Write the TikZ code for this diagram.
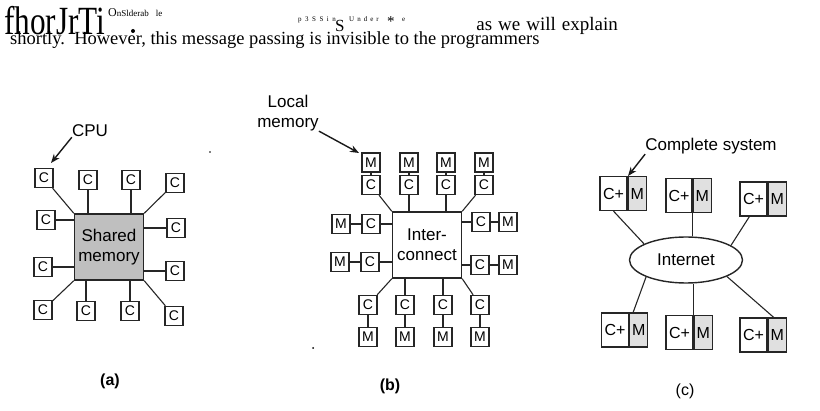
\documentclass[tikz,border=0pt]{standalone}
\usepackage{fontspec}
\setmainfont{Liberation Serif}
\newfontfamily\diagfont{Liberation Sans}
\usetikzlibrary{arrows.meta,shapes.geometric}
\begin{document}
\begin{tikzpicture}[x=1pt,y=-1pt,
  box/.style={draw=black!85, line width=1.4pt, fill=white, minimum width=18pt, minimum height=19pt, inner sep=0pt, font=\diagfont\fontsize{14}{14}\selectfont},
  link/.style={draw=black!85, line width=1.1pt},
  lbl/.style={font=\diagfont\fontsize{17}{20}\selectfont, align=center, inner sep=0pt},
  arr/.style={draw=black!90, line width=1.4pt, -{Stealth[length=9pt,width=7pt]}},
  cpart/.style={draw=black!85, line width=1.3pt, minimum width=27pt, minimum height=34pt, inner sep=0pt, font=\diagfont\fontsize{16}{16}\selectfont},
  mpart/.style={cpart, minimum width=18pt, fill=black!12},
  bigbox/.style={draw=black!85, line width=1.4pt, minimum width=69pt, minimum height=66pt, inner sep=0pt, lbl},
  toptext/.style={anchor=base west, inner sep=0pt},
  panel/.style={font=\diagfont\bfseries\fontsize{16}{16}\selectfont, inner sep=0pt}
]
\useasboundingbox (0,0) rectangle (820,411);

% ---------- top text ----------
\node[toptext] (t1) at (4,35) {\fontsize{40}{40}\selectfont\scalebox{0.78}[1]{fhorJrTi}};
\node[toptext] (t2) at (108,17) {{\fontsize{12}{12}\selectfont O}{\fontsize{9}{9}\selectfont nSlderab\hspace{7pt}le}};
\node[toptext] (t3) at (298,22) {\fontsize{7}{7}\selectfont p\hspace{3.5pt}3\hspace{3.5pt}S\hspace{3.5pt}S\hspace{3.5pt}i\hspace{3.5pt}n};
\node[toptext] (t4) at (335,32) {\fontsize{17}{17}\selectfont S};
\node[toptext] (t5) at (349,22) {\fontsize{7}{7}\selectfont U\hspace{3pt}n\hspace{3pt}d\hspace{3pt}e\hspace{3pt}r};
\node[toptext] (t6) at (387,27) {\fontsize{15}{15}\selectfont *};
\node[toptext] (t7) at (402,22) {\fontsize{7}{7}\selectfont e};
\node[anchor=base east, inner sep=0pt] (t8) at (618,31) {\fontsize{19}{19}\selectfont as\hspace{6pt}we\hspace{6pt}will\hspace{6pt}explain};
\node[toptext] (t9) at (10,45) {\fontsize{18.5}{18.5}\selectfont shortly.\ \ However, this message passing is invisible to the programmers};
\fill (133,31) circle (2);

% ---------- (a) ----------
\node[bigbox, fill=black!25] (sm) at (109,247) {Shared\\memory};
\node[box] (a1) at (44,178) {C};
\node[box] (a2) at (88,180) {C};
\node[box] (a3) at (131,180) {C};
\node[box] (a4) at (175,183) {C};
\node[box] (a5) at (46,220) {C};
\node[box] (a6) at (176,228) {C};
\node[box] (a7) at (43,267) {C};
\node[box] (a8) at (175,271) {C};
\node[box] (a9) at (43,310) {C};
\node[box] (a10) at (86,311) {C};
\node[box] (a11) at (130,311) {C};
\node[box] (a12) at (174,316) {C};
\draw[link] (a1) -- (sm.north west);
\draw[link] (a2.south) -- (a2.south |- sm.north);
\draw[link] (a3.south) -- (a3.south |- sm.north);
\draw[link] (a4) -- (sm.north east);
\draw[link] (a5.east) -- (a5.east -| sm.west);
\draw[link] (a6.west) -- (a6.west -| sm.east);
\draw[link] (a7.east) -- (a7.east -| sm.west);
\draw[link] (a8.west) -- (a8.west -| sm.east);
\draw[link] (a9) -- (sm.south west);
\draw[link] (a10.north) -- (a10.north |- sm.south);
\draw[link] (a11.north) -- (a11.north |- sm.south);
\draw[link] (a12) -- (sm.south east);
\node[lbl] (cpu) at (90,131) {CPU};
\coordinate (cputip) at (51,163);
\draw[arr] (cpu.south west) -- (cputip);
\node[panel] (la) at (110,381) {(a)};
\fill (210,152) circle (0.8);

% ---------- (b) ----------
\node[bigbox, fill=white] (ic) at (427,245) {Inter-\\connect};
\node[box] (tm1) at (371,162.5) {M};
\node[box] (tm2) at (409,162.5) {M};
\node[box] (tm3) at (446,162.5) {M};
\node[box] (tm4) at (484,162.5) {M};
\node[box] (tc1) at (371,185) {C};
\node[box] (tc2) at (409,185) {C};
\node[box] (tc3) at (446,185) {C};
\node[box] (tc4) at (484,185) {C};
\node[box] (lm1) at (341,224) {M};
\node[box] (lc1) at (371,224) {C};
\node[box] (lm2) at (340,262) {M};
\node[box] (lc2) at (370,262) {C};
\node[box] (rc1) at (481,222) {C};
\node[box] (rm1) at (508,222) {M};
\node[box] (rc2) at (480,265) {C};
\node[box] (rm2) at (508,265) {M};
\node[box] (bc1) at (368,305) {C};
\node[box] (bc2) at (405,305) {C};
\node[box] (bc3) at (443,305) {C};
\node[box] (bc4) at (480,305) {C};
\node[box] (bm1) at (368,337) {M};
\node[box] (bm2) at (405,337) {M};
\node[box] (bm3) at (443,337) {M};
\node[box] (bm4) at (480,337) {M};
\foreach \i in {1,2,3,4}{
  \draw[link] (tm\i) -- (tc\i);
  \draw[link] (bc\i) -- (bm\i);
}
\draw[link] (tc1) -- (ic.north west);
\draw[link] (tc2.south) -- (tc2.south |- ic.north);
\draw[link] (tc3.south) -- (tc3.south |- ic.north);
\draw[link] (tc4) -- (ic.north east);
\draw[link] (bc1) -- (ic.south west);
\draw[link] (bc2.north) -- (bc2.north |- ic.south);
\draw[link] (bc3.north) -- (bc3.north |- ic.south);
\draw[link] (bc4) -- (ic.south east);
\draw[link] (lm1) -- (lc1);
\draw[link] (lm2) -- (lc2);
\draw[link] (rc1) -- (rm1);
\draw[link] (rc2) -- (rm2);
\draw[link] (lc1.east) -- (lc1.east -| ic.west);
\draw[link] (lc2.east) -- (lc2.east -| ic.west);
\draw[link] (rc1.west) -- (rc1.west -| ic.east);
\draw[link] (rc2.west) -- (rc2.west -| ic.east);
\node[lbl] (locm) at (288,113) {Local\\memory};
\coordinate (loctip) at (359,153);
\draw[arr] (locm.south east) -- (loctip);
\node[panel] (lb) at (390,386) {(b)};
\fill (313,348) circle (1);

% ---------- (c) ----------
\node[draw=black!85, ellipse, line width=1.4pt, minimum width=113pt, minimum height=46pt, inner sep=0pt, lbl] (net) at (686,260) {Internet};
\node[cpart] (t1c) at (613.5,193.5) {C+};
\node[mpart, anchor=west] (t1m) at (t1c.east) {M};
\node[cpart, minimum width=26pt] (t2c) at (679,195.5) {C+};
\node[mpart, anchor=west] (t2m) at (t2c.east) {M};
\node[cpart] (t3c) at (753.5,199) {C+};
\node[mpart, anchor=west] (t3m) at (t3c.east) {M};
\node[cpart] (b1c) at (615,330) {C+};
\node[mpart, anchor=west] (b1m) at (b1c.east) {M};
\node[cpart] (b2c) at (679.5,332.5) {C+};
\node[mpart, anchor=west] (b2m) at (b2c.east) {M};
\node[cpart] (b3c) at (753.5,335) {C+};
\node[mpart, anchor=west] (b3m) at (b3c.east) {M};
\draw[link] (t1c.south) -- (net.159);
\draw[link] (t2c.south east) -- (t2c.south east |- net.north);
\draw[link] ([xshift=10pt]t3c.south west) -- (net.18);
\draw[link] (net.203) -- ([xshift=4pt]b1m.north west);
\draw[link] (b2c.north east |- net.south) -- (b2c.north east);
\draw[link] (net.338) -- ([xshift=6pt]b3m.north west);
\node[lbl] (cs) at (711,146) {Complete system};
\coordinate (cstip) at (628,176);
\draw[arr] (cs.south west) -- (cstip);
\node[panel, font=\diagfont\fontsize{16}{16}\selectfont] (lc) at (685,391) {(c)};
\end{tikzpicture}
\end{document}
